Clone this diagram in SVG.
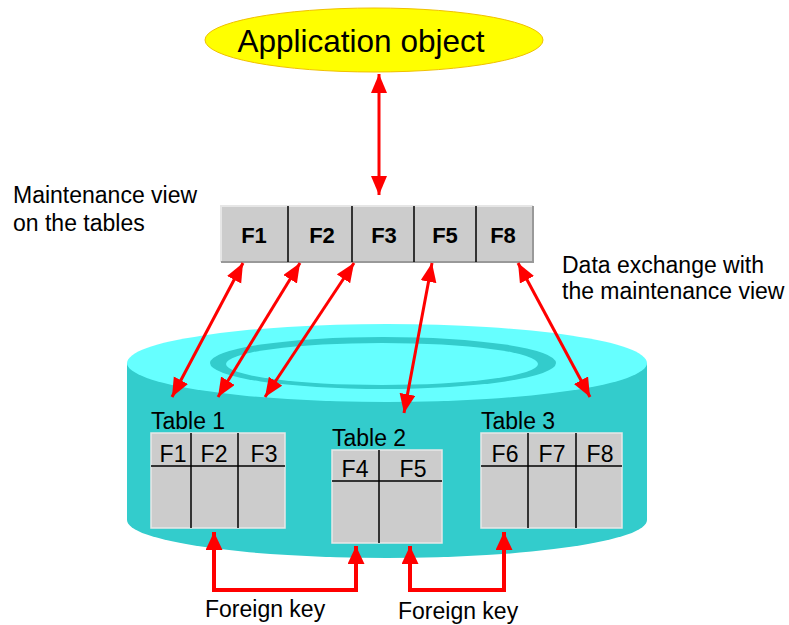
<svg xmlns="http://www.w3.org/2000/svg" width="789" height="625" viewBox="0 0 789 625">
<style>
text{font-family:"Liberation Sans",Arial,sans-serif;fill:#000}
.lbl{font-size:23px}
.hd{font-size:23px;text-anchor:middle}
.vf{font-size:22px;font-weight:bold;text-anchor:middle}
.cell{fill:#cccccc;stroke:#e8e8e8;stroke-width:1.5}
.div{stroke:#000;stroke-width:1.5}
.con{stroke:#ff0000;stroke-width:3;fill:none}
.fk{stroke:#ff0000;stroke-width:4;fill:none}
</style>
<defs>
<marker id="ah" markerUnits="userSpaceOnUse" markerWidth="20" markerHeight="18" refX="19" refY="8" orient="auto-start-reverse">
<path d="M0,0 L19,8 L0,16 z" fill="#ff0000"/>
</marker>
<marker id="ahb" markerUnits="userSpaceOnUse" markerWidth="20" markerHeight="18" refX="18" refY="8.5" orient="auto-start-reverse">
<path d="M0,0 L18,8.5 L0,17 z" fill="#ff0000"/>
</marker>
</defs>
<rect width="789" height="625" fill="#fff"/>

<g id="database">
<path d="M127,363 L127,520 A260,38 0 0 0 647,520 L647,363 Z" fill="#33cccc"/>
<ellipse cx="387" cy="363" rx="260" ry="39" fill="#66ffff"/>
<ellipse cx="383" cy="363" rx="173" ry="26" fill="#33cccc"/>
<ellipse cx="382" cy="364" rx="156" ry="21" fill="#66ffff"/>
</g>

<g id="app-object">
<ellipse cx="374" cy="40" rx="169" ry="32" fill="#ffff00" stroke="#f0c000" stroke-width="1"/>
<text x="361" y="52" font-size="31.5" text-anchor="middle">Application object</text>
</g>

<g id="maintenance-view">
<rect x="221" y="206" width="312" height="56" fill="#cccccc"/>
<path d="M221,262 L221,206 L533,206" fill="none" stroke="#e6e6e6" stroke-width="2"/>
<path d="M221,262 L533,262 L533,206" fill="none" stroke="#999999" stroke-width="2"/>
<line class="div" x1="288" y1="206" x2="288" y2="262"/>
<line class="div" x1="352" y1="206" x2="352" y2="262"/>
<line class="div" x1="414" y1="206" x2="414" y2="262"/>
<line class="div" x1="476" y1="206" x2="476" y2="262"/>
<text class="vf" x="254" y="243">F1</text>
<text class="vf" x="322" y="243">F2</text>
<text class="vf" x="384" y="243">F3</text>
<text class="vf" x="445" y="243">F5</text>
<text class="vf" x="503" y="243">F8</text>
</g>

<g id="label-view">
<text class="lbl" x="13" y="203">Maintenance view</text>
<text class="lbl" x="13" y="231">on the tables</text>
</g>
<g id="label-exchange">
<text class="lbl" x="562" y="273">Data exchange with</text>
<text class="lbl" x="562" y="299">the maintenance view</text>
</g>

<g id="table1">
<text class="lbl" x="151" y="429">Table 1</text>
<rect class="cell" x="151" y="433" width="134" height="95"/>
<line class="div" x1="151" y1="466" x2="285" y2="466"/>
<line class="div" x1="191" y1="433" x2="191" y2="528"/>
<line class="div" x1="238" y1="433" x2="238" y2="528"/>
<text class="hd" x="173" y="462">F1</text>
<text class="hd" x="214" y="462">F2</text>
<text class="hd" x="264" y="462">F3</text>
</g>

<g id="table2">
<text class="lbl" x="332" y="446">Table 2</text>
<rect class="cell" x="332" y="450" width="110" height="93"/>
<line class="div" x1="332" y1="481" x2="442" y2="481"/>
<line class="div" x1="379" y1="450" x2="379" y2="543"/>
<text class="hd" x="355" y="477">F4</text>
<text class="hd" x="413" y="477">F5</text>
</g>

<g id="table3">
<text class="lbl" x="481" y="429">Table 3</text>
<rect class="cell" x="481" y="433" width="141" height="95"/>
<line class="div" x1="481" y1="466" x2="622" y2="466"/>
<line class="div" x1="528" y1="433" x2="528" y2="528"/>
<line class="div" x1="576" y1="433" x2="576" y2="528"/>
<text class="hd" x="505" y="462">F6</text>
<text class="hd" x="552" y="462">F7</text>
<text class="hd" x="600" y="462">F8</text>
</g>

<g id="labels-fk">
<text class="lbl" x="205" y="617">Foreign key</text>
<text class="lbl" x="398" y="619">Foreign key</text>
</g>

<g id="connectors">
<line class="con" x1="379" y1="74" x2="379" y2="195" marker-start="url(#ah)" marker-end="url(#ah)"/>
<line class="con" x1="243" y1="263" x2="172" y2="397" marker-start="url(#ah)" marker-end="url(#ah)"/>
<line class="con" x1="300" y1="263" x2="218" y2="397" marker-start="url(#ah)" marker-end="url(#ah)"/>
<line class="con" x1="354" y1="263" x2="265" y2="397" marker-start="url(#ah)" marker-end="url(#ah)"/>
<line class="con" x1="432" y1="263" x2="404" y2="413" marker-start="url(#ah)" marker-end="url(#ah)"/>
<line class="con" x1="518" y1="263" x2="590" y2="397" marker-start="url(#ah)" marker-end="url(#ah)"/>
<polyline class="fk" points="214,532 214,590 356,590 356,546" marker-start="url(#ahb)" marker-end="url(#ahb)"/>
<polyline class="fk" points="410,546 410,590 504,590 504,532" marker-start="url(#ahb)" marker-end="url(#ahb)"/>
</g>
</svg>
